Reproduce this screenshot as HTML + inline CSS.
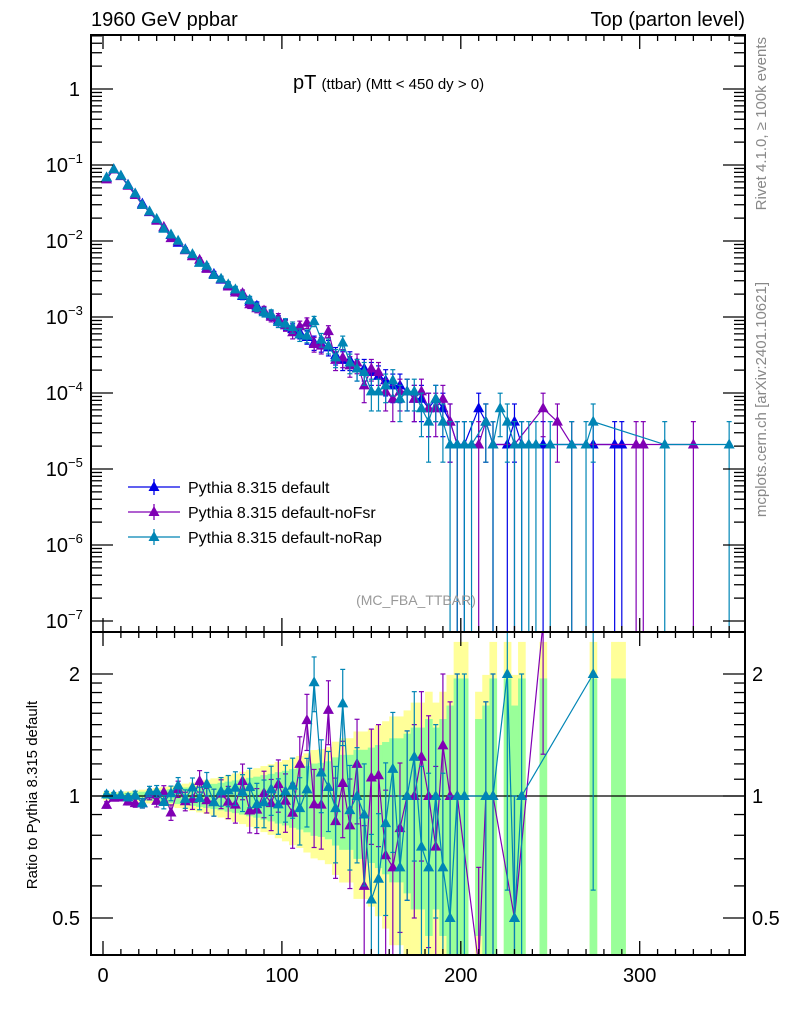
<!DOCTYPE html>
<html><head><meta charset="utf-8"><style>
html,body{margin:0;background:#fff;width:786px;height:1024px;overflow:hidden;}
svg{display:block;font-family:"Liberation Sans",sans-serif;}
</style></head><body>
<svg id="c" width="786" height="1024" xmlns="http://www.w3.org/2000/svg"></svg>
<script>
// ---- data: event counts per 4 GeV bin (centers 2,6,10,...) ----
const binCenters = Array.from({length: 90}, (_, i) => 2 + 4 * i);
const countsDefault = [3240,4190,3430,2620,2000,1480,1140,905,714,571,452,371,305,248,210,176,148,124,105,90,76,67,57,50,43,38,33,30,26,22,21,19,15,13,13,10,10,9,8,7,6,6,5,4,4,
 3,4,3,2,1,1,0,3,2,1,0,1,2,1,0,0,1,0,0,0,0,0,0,1,0,0,1,1,0,0,0,0,0,0,0,0,0,0,0,0,0,0,0,0,0];
const countsNoFsr = [3080,4150,3400,2540,1920,1420,1150,880,730,520,470,360,300,270,205,170,150,120,100,98,70,62,58,48,46,37,30,36,40,21,20,31,13,14,11,12,6,10,9,5,4,5,5,4,5,
 3,3,4,2,1,0,0,1,2,1,0,0,1,0,0,0,3,0,2,0,1,0,0,0,0,0,0,0,0,1,1,0,0,0,0,0,0,1,0,0,0,0,0,0,0];
const countsNoRap = [3270,4210,3450,2600,2010,1420,1170,930,690,580,480,365,320,245,225,170,152,128,110,92,80,64,55,52,41,39,35,28,27,42,24,20,14,22,12,10,9,5,5,6,7,4,5,5,3,
 2,4,2,1,1,1,1,0,2,1,3,2,1,1,1,1,0,1,0,0,1,0,1,2,0,0,0,0,0,0,0,0,0,1,0,0,0,0,0,0,0,0,1,0,0];
const unitWeight = 2.1e-5;
const xTicks = [0,100,200,300];
const yDecades = [0,-1,-2,-3,-4,-5,-6,-7];
const ratioTicks = [0.5,1,2];
const seriesNames = ["Pythia 8.315 default","Pythia 8.315 default-noFsr","Pythia 8.315 default-noRap"];
const seriesColors = ["#0000e6","#8000b4","#0085b5"];

const NS = "http://www.w3.org/2000/svg";
const svg = document.getElementById('c');
const L = 91, R = 745, T = 35, M = 632, B = 955;
const X = v => 103 + v * 1.789;
const Y = v => 89 - 76 * Math.log10(v);
const RY = r => 796 - 122 * Math.log2(r);
function el(tag, attrs, parent, text) {
  const e = document.createElementNS(NS, tag);
  for (const k in attrs) e.setAttribute(k, attrs[k]);
  if (text !== undefined) e.textContent = text;
  (parent || svg).appendChild(e);
  return e;
}
const defs = el('defs', {});
const cp1 = el('clipPath', {id: 'cTop'}, defs); el('rect', {x: L, y: T, width: R - L, height: M - T}, cp1);
const cp2 = el('clipPath', {id: 'cBot'}, defs); el('rect', {x: L, y: M, width: R - L, height: B - M}, cp2);

// ---- ratio bands ----
const bands = el('g', {'clip-path': 'url(#cBot)'});


[[1.4, '#ffff99', 'yellow-band'], [0.95, '#99ff99', 'green-band']].forEach(([f, col, nm]) => {
  binCenters.forEach((c, i) => {
    const n = countsDefault[i]; if (!n) return;
    const e = f / Math.sqrt(n);
    const lo = Math.max(1 - e, 0.38), hi = Math.min(1 + e, 2.6);
    const r = el('rect', {x: X(c - 2), y: RY(hi), width: X(c + 2) - X(c - 2) + 0.5, height: RY(lo) - RY(hi), fill: col}, bands);
    
    
  });
});
el('line', {x1: L, x2: R, y1: RY(1), y2: RY(1), stroke: '#000', 'stroke-width': 1.3});

function tri(g, x, y, col) {
  el('polygon', {points: `${x},${y - 6} ${x - 5.5},${y + 4} ${x + 5.5},${y + 4}`, fill: col}, g);
}
const allCounts = [countsDefault, countsNoFsr, countsNoRap];
// ---- main panel series ----
allCounts.forEach((cnt, s) => {
  const g = el('g', {'clip-path': 'url(#cTop)'});
  
  
  const col = seriesColors[s];
  let pts = [];
  binCenters.forEach((c, i) => {
    const n = cnt[i]; if (!n) return;
    const v = n * unitWeight, e = v / Math.sqrt(n);
    const x = X(c), yc = Y(v), yh = Y(v + e), yl = v - e > 1e-9 ? Y(v - e) : M;
    el('line', {x1: x, x2: x, y1: yh, y2: Math.min(yl, M), stroke: col, 'stroke-width': 1.2}, g);
    el('line', {x1: x - 2.5, x2: x + 2.5, y1: yh, y2: yh, stroke: col, 'stroke-width': 1.2}, g);
    if (yl < M) el('line', {x1: x - 2.5, x2: x + 2.5, y1: yl, y2: yl, stroke: col, 'stroke-width': 1.2}, g);
    pts.push(x + ',' + yc);
  });
  el('polyline', {points: pts.join(' '), fill: 'none', stroke: col, 'stroke-width': 1.2}, g);
  binCenters.forEach((c, i) => { const n = cnt[i]; if (n) tri(g, X(c), Y(n * unitWeight), col); });
});
// ---- ratio series ----
[1, 2].forEach(s => {
  const g = el('g', {'clip-path': 'url(#cBot)'});
  
  
  const col = seriesColors[s], cnt = allCounts[s];
  let pts = [], marks = [];
  binCenters.forEach((c, i) => {
    const n = cnt[i], d = countsDefault[i]; if (!n || !d) return;
    const r = n / d, e = r / Math.sqrt(n);
    const x = X(c), yh = Math.max(RY(r + e), M), yl = r - e > 0.01 ? RY(r - e) : B;
    el('line', {x1: x, x2: x, y1: yh, y2: Math.min(yl, B), stroke: col, 'stroke-width': 1.2}, g);
    if (yh > M) el('line', {x1: x - 2.5, x2: x + 2.5, y1: yh, y2: yh, stroke: col, 'stroke-width': 1.2}, g);
    if (yl < B) el('line', {x1: x - 2.5, x2: x + 2.5, y1: yl, y2: yl, stroke: col, 'stroke-width': 1.2}, g);
    const ry = Math.max(Math.min(RY(r), B + 10), M - 10);
    pts.push(x + ',' + ry); marks.push([x, ry]);
  });
  el('polyline', {points: pts.join(' '), fill: 'none', stroke: col, 'stroke-width': 1.2}, g);
  marks.forEach(([x, y]) => tri(g, x, y, col));
});

// ---- frames & ticks ----
const ax = el('g', {stroke: '#000', 'stroke-width': 1.3});


el('rect', {x: L, y: T, width: R - L, height: B - T, fill: 'none', 'stroke-width': 2}, ax);
el('line', {x1: L, x2: R, y1: M, y2: M, 'stroke-width': 2}, ax);
for (let v = 0; v <= 360; v += 10) {
  const x = X(v); if (x < L || x > R) continue;
  const len = v % 100 === 0 ? 14 : 6;
  [[B, -1], [M, -1], [M, 1], [T, 1]].forEach(([y0, d]) => el('line', {x1: x, x2: x, y1: y0, y2: y0 + d * len}, ax));
}
for (let d = 0; d >= -7; d--) {
  for (let m = 1; m <= 9; m++) {
    const y = Y(m * Math.pow(10, d)); if (y < T || y > M) continue;
    const len = m === 1 ? 22 : 11;
    el('line', {x1: L, x2: L + len, y1: y, y2: y}, ax);
    el('line', {x1: R, x2: R - len, y1: y, y2: y}, ax);
  }
}
[0.5,0.6,0.7,0.8,0.9,1,1.1,1.2,1.3,1.4,1.5,1.6,1.7,1.8,1.9,2].forEach(r => {
  const y = RY(r), len = (r === 0.5 || r === 1 || r === 2) ? 22 : 11;
  el('line', {x1: L, x2: L + len, y1: y, y2: y}, ax);
  el('line', {x1: R, x2: R - len, y1: y, y2: y}, ax);
});

// ---- labels ----
function txt(x, y, s, attrs, name) {
  const t = el('text', Object.assign({x: x, y: y, 'font-size': 20, fill: '#000'}, attrs || {}), svg, s);
  
  
  return t;
}
xTicks.forEach(v => txt(X(v), 982, String(v), {'text-anchor': 'middle'}, 'x-tick-label'));
yDecades.forEach(d => {
  const y = Y(Math.pow(10, d)) + 7;
  if (d === 0) txt(80, y, '1', {'text-anchor': 'end'}, 'y-tick-label');
  else {
    txt(68, y, '10', {'text-anchor': 'end'}, 'y-tick-label');
    const e = el('text', {x: 68, y: y - 9, 'font-size': 13}, svg, '\u2212' + (-d));
    
    
  }
});
ratioTicks.forEach(r => {
  txt(80, RY(r) + 7, String(r), {'text-anchor': 'end'}, 'ratio-tick-label');
  txt(752, RY(r) + 7, String(r), {}, 'ratio-tick-label-right');
});
txt(91, 26, '1960 GeV ppbar', {}, 'energy-label');
txt(745, 26, 'Top (parton level)', {'text-anchor': 'end'}, 'process-label');
const ti = txt(293, 89, 'pT ', {}, 'plot-title');
el('tspan', {'font-size': 15}, ti, '(ttbar) (Mtt < 450 dy > 0)');
txt(416, 605, '(MC_FBA_TTBAR)', {'text-anchor': 'middle', 'font-size': 14, fill: '#999'}, 'analysis-id');
txt(0, 0, 'Ratio to Pythia 8.315 default', {'text-anchor': 'middle', 'font-size': 15, transform: 'translate(37,795) rotate(-90)'}, 'y-axis-title');
txt(0, 0, 'Rivet 4.1.0, \u2265 100k events', {'text-anchor': 'end', 'font-size': 15, fill: '#888', transform: 'translate(766,37) rotate(-90)'}, 'rivet-version');
txt(0, 0, 'mcplots.cern.ch [arXiv:2401.10621]', {'text-anchor': 'end', 'font-size': 15, fill: '#888', transform: 'translate(766,282) rotate(-90)'}, 'mcplots-credit');

// ---- legend ----
seriesNames.forEach((nm, s) => {
  const y = 487 + s * 25;
  const g = el('g', {});
  
  
  el('line', {x1: 128, x2: 180, y1: y, y2: y, stroke: seriesColors[s], 'stroke-width': 1.3}, g);
  el('line', {x1: 154, x2: 154, y1: y - 8, y2: y + 8, stroke: seriesColors[s], 'stroke-width': 1.3}, g);
  tri(g, 154, y, seriesColors[s]);
  el('text', {x: 188, y: y + 6, 'font-size': 16}, g, nm);
});
</script>
</body></html>
